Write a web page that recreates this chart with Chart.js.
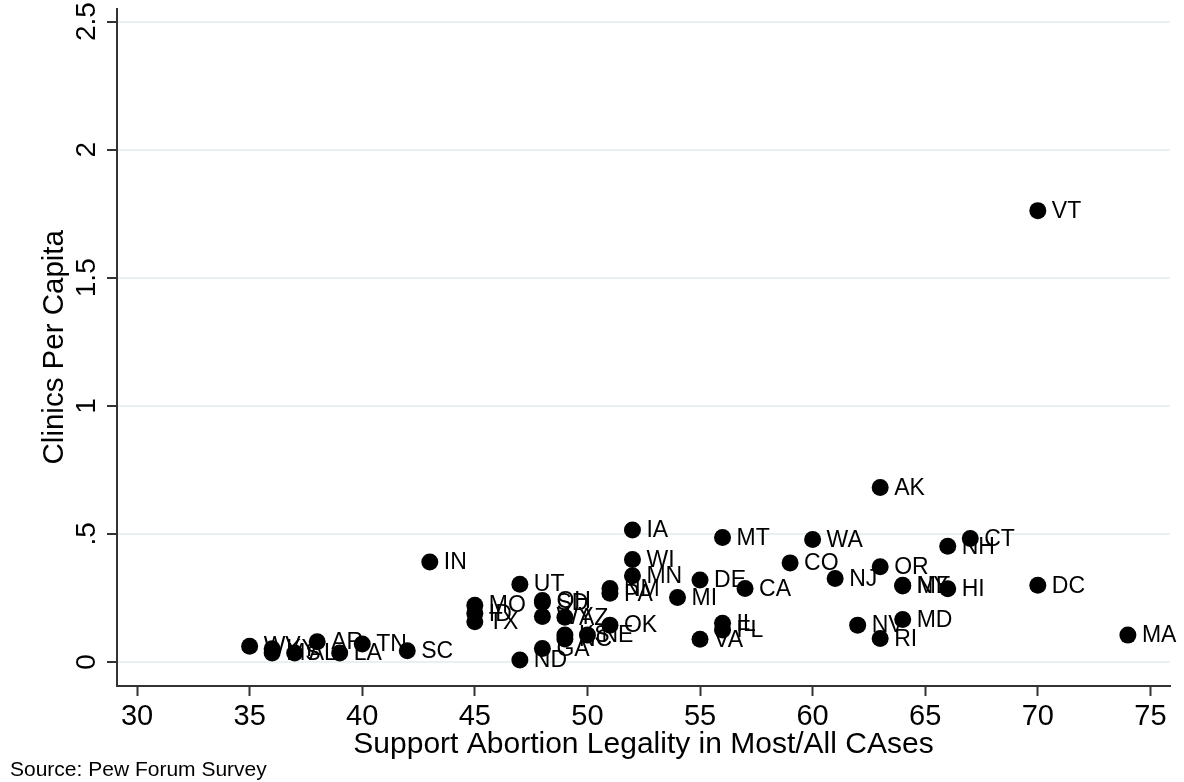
<!DOCTYPE html>
<html>
<head>
<meta charset="utf-8">
<script src="https://cdn.jsdelivr.net/npm/chart.js@4.4.1/dist/chart.umd.min.js"></script>
<style>
  html, body { margin: 0; padding: 0; background: #fff; }
  #wrap { width: 1184px; height: 782px; position: relative; }
</style>
</head>
<body>
<div id="wrap"><canvas id="chart"></canvas></div>
<script>
// state abbreviations, % supporting legal abortion, clinics per capita
const states = ["VT", "AK", "IA", "MT", "WA", "CT", "NH", "IN", "WI", "CO",
    "OR", "NJ", "DE", "MN", "UT", "DC", "CA", "NM", "PA", "MI",
    "ME", "NY", "HI", "MO", "ID", "TX", "OH", "SD", "WY", "AZ",
    "OK", "MD", "NV", "RI", "MA", "IL", "FL", "VA", "KS", "NC",
    "NE", "GA", "ND", "WV", "KY", "MS", "AL", "AR", "LA", "TN", "SC"];
const support = [70, 63, 52, 56, 60, 67, 66, 43, 52, 59,
    63, 61, 55, 52, 47, 70, 57, 51, 51, 54,
    64, 64, 66, 45, 45, 45, 48, 48, 48, 49,
    51, 64, 62, 63, 74, 56, 56, 55, 49, 49,
    50, 48, 47, 35, 36, 36, 37, 38, 39, 40, 42];
const clinics = [1.762, 0.681, 0.515, 0.486, 0.478, 0.482, 0.452, 0.39, 0.40, 0.387,
    0.372, 0.326, 0.32, 0.337, 0.304, 0.30, 0.287, 0.287, 0.268, 0.252,
    0.30, 0.297, 0.286, 0.222, 0.19, 0.157, 0.24, 0.232, 0.178, 0.175,
    0.144, 0.166, 0.144, 0.092, 0.105, 0.151, 0.125, 0.089, 0.105, 0.09,
    0.105, 0.053, 0.008, 0.062, 0.052, 0.035, 0.035, 0.079, 0.035, 0.07, 0.044];

const xTicks = [30, 35, 40, 45, 50, 55, 60, 65, 70, 75];
const yTicks = [0, 0.5, 1, 1.5, 2, 2.5];
const yTickLabels = ["0", ".5", "1", "1.5", "2", "2.5"];

const AXIS = "#333333";
const GRID = "#e8f0f2";

Chart.defaults.font.family = "'Liberation Sans', Arial, Helvetica, sans-serif";
Chart.defaults.color = "#000";

const pointLabels = {
    id: "pointLabels",
    afterDatasetsDraw(chart) {
        const ctx = chart.ctx;
        const meta = chart.getDatasetMeta(0);
        ctx.save();
        ctx.font = "23px 'Liberation Sans', Arial, sans-serif";
        ctx.fillStyle = "#000";
        ctx.textAlign = "left";
        ctx.textBaseline = "middle";
        meta.data.forEach((pt, i) => {
            ctx.fillText(states[i], pt.x + 14, pt.y + 1);
        });
        ctx.restore();
    },
    afterDraw(chart) {
        const ctx = chart.ctx;
        ctx.save();
        ctx.font = "21px 'Liberation Sans', Arial, sans-serif";
        ctx.fillStyle = "#000";
        ctx.textAlign = "left";
        ctx.textBaseline = "middle";
        ctx.fillText("Source: Pew Forum Survey", 10, 770);
        ctx.restore();
    }
};

const getData = () => {
    return {
        datasets: [{
            data: support.map((s, i) => ({ x: s, y: clinics[i] })),
            backgroundColor: "#000",
            borderWidth: 0,
            pointRadius: 8.5,
            pointHoverRadius: 8.5,
        }],
    };
};

const getConfig = (data) => {
    return {
        type: "scatter",
        data: data,
        plugins: [pointLabels],
        options: {
            responsive: true,
            maintainAspectRatio: false,
            animation: false,
            events: [],
            layout: { padding: { left: 0, right: 14, top: 0, bottom: 0 } },
            plugins: {
                legend: { display: false },
                tooltip: { enabled: false },
            },
            scales: {
                x: {
                    type: "linear",
                    min: 29.11,
                    max: 75.87,
                    afterBuildTicks: (scale) => {
                        scale.ticks = xTicks.map(v => ({ value: v }));
                    },
                    afterFit: (scale) => {
                        scale.height = 96;
                        scale.paddingLeft = 0;
                        scale.paddingRight = 0;
                    },
                    ticks: {
                        font: { size: 29 },
                        color: "#000",
                        padding: 4,
                        maxRotation: 0,
                        callback: (v, i) => String(xTicks[i]),
                    },
                    grid: {
                        drawOnChartArea: false,
                        drawTicks: true,
                        tickLength: 10,
                        tickColor: AXIS,
                        tickWidth: 2,
                    },
                    border: { color: AXIS, width: 2 },
                    title: {
                        display: true,
                        text: "Support Abortion Legality in Most/All CAses",
                        font: { size: 30 },
                        color: "#000",
                        padding: { top: 0, bottom: 19 },
                    },
                },
                y: {
                    type: "linear",
                    min: -0.0936,
                    max: 2.551,
                    afterBuildTicks: (scale) => {
                        scale.ticks = yTicks.map(v => ({ value: v }));
                    },
                    afterFit: (scale) => {
                        scale.width = 117;
                        scale.paddingTop = 0;
                        scale.paddingBottom = 0;
                    },
                    ticks: {
                        font: { size: 28 },
                        color: "#000",
                        padding: 0,
                        minRotation: 90,
                        maxRotation: 90,
                        crossAlign: "center",
                        callback: (v, i) => yTickLabels[i],
                    },
                    grid: {
                        color: GRID,
                        lineWidth: 2,
                        drawTicks: true,
                        tickLength: 10,
                        tickColor: AXIS,
                        tickWidth: 2,
                    },
                    border: { color: AXIS, width: 2 },
                    title: {
                        display: true,
                        text: "Clinics Per Capita",
                        font: { size: 29.5 },
                        color: "#000",
                        padding: { top: 37, bottom: 0 },
                    },
                },
            },
        },
    };
};

const createChart = () => {
    const ctx = document.getElementById("chart").getContext("2d");
    new Chart(ctx, getConfig(getData()));
};

createChart();
</script>
</body>
</html>
